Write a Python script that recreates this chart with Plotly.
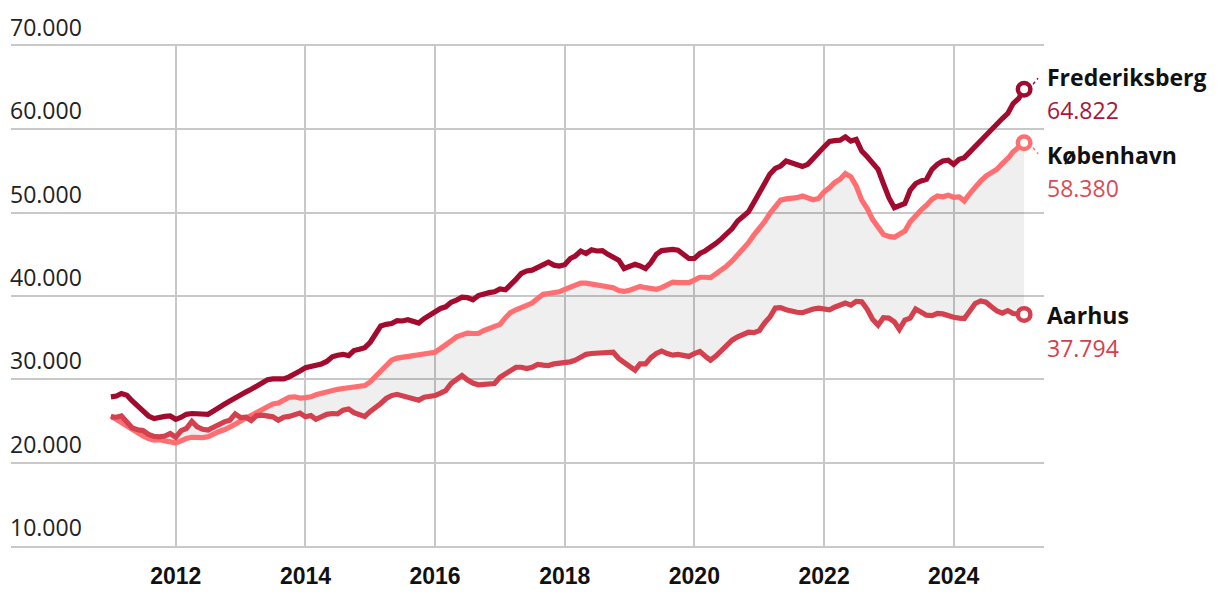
import plotly.graph_objects as go
import pandas as pd

months = pd.date_range("2011-01-01", periods=170, freq="MS")

frederiksberg = [
    27900, 28000, 28300, 28100, 27400, 26800, 26200, 25600, 25300, 25500, 25550, 25600,
    25200, 25450, 25800, 25900, 25850, 25700, 25800, 26200, 26700, 27000, 27400, 27800,
    28150, 28500, 28800, 29200, 29500, 29950, 30050, 30100, 30050, 30300, 30750, 31000,
    31400, 31500, 31650, 31850, 32150, 32700, 32900, 33000, 32850, 33450, 33600, 33800,
    34450, 35400, 36400, 36600, 36700, 37050, 37000, 37150, 37000, 36750, 37300, 37700,
    38200, 38500, 38700, 39250, 39500, 39850, 39800, 39550, 40050, 40300, 40400, 40500,
    40850, 40750, 41250, 42000, 42700, 43000, 43100, 43450, 43700, 44050, 43700, 43600,
    43750, 44500, 44800, 45400, 45100, 45550, 45400, 45450, 45000, 44700, 44300, 43300,
    43500, 43800, 43600, 43300, 44000, 45000, 45450, 45600, 45600, 45500, 44900, 44500,
    44500, 45100, 45400, 45800, 46300, 46850, 47500, 48100, 49000, 49500, 50100, 51200,
    52400, 53500, 54600, 55300, 55600, 56200, 56000, 55850, 55550, 55800, 56600, 57200,
    57900, 58550, 58650, 58700, 59100, 58600, 58800, 57400, 56700, 55900, 55200, 53500,
    51800, 50600, 50800, 51100, 52700, 53500, 53800, 54000, 55200, 55800, 56200, 56300,
    55800, 56400, 56600, 57300, 58000, 58700, 59400, 60000, 60600, 61300, 61900, 63100,
    63700, 64822,
]

koebenhavn = [
    25600, 25200, 24700, 24300, 23900, 23500, 23200, 22900, 22700, 22750, 22700, 22500,
    22350, 22650, 22900, 23050, 22950, 23000, 23100, 23450, 23750, 23950, 24200, 24600,
    25000, 25350, 25700, 26050, 26400, 26850, 27050, 27150, 27500, 27850, 27900, 27750,
    27800, 27900, 28150, 28350, 28500, 28650, 28800, 28900, 28950, 29050, 29100, 29250,
    29700, 30400, 31100, 31800, 32300, 32550, 32700, 32750, 32850, 32950, 33000, 33050,
    33250, 33700, 34050, 34600, 35100, 35400, 35550, 35500, 35500, 35850, 36050, 36250,
    36600, 37400, 38000, 38350, 38600, 38800, 39150, 39700, 40200, 40300, 40350, 40500,
    40800, 41100, 41350, 41550, 41550, 41450, 41300, 41200, 41100, 41000, 40650, 40550,
    40700, 41000, 41150, 41000, 40850, 40800, 41000, 41250, 41650, 41600, 41550, 41600,
    41900, 42250, 42250, 42200, 42650, 43100, 43600, 44200, 44900, 45600, 46400, 47300,
    48100, 48950, 49900, 50850, 51500, 51650, 51700, 51800, 52000, 51800, 51550, 51700,
    52500, 53000, 53600, 54000, 54700, 54300, 53200, 51500, 50500, 49200, 48300, 47400,
    47150, 47050, 47400, 47800, 48900, 49700, 50300, 50900, 51600, 52000, 51900, 52100,
    51850, 51900, 51400, 52300, 53100, 53800, 54400, 54800, 55200, 55900, 56500, 57300,
    57900, 58380,
]

aarhus = [
    25500, 25450, 25600, 24800, 24150, 23950, 23850, 23400, 23150, 23100, 23200, 23500,
    23050, 23850, 24100, 24950, 24300, 24000, 23900, 24250, 24600, 24900, 25100, 25850,
    25400, 25450, 25050, 25650, 25700, 25650, 25500, 25100, 25450, 25550, 25700, 25950,
    25500, 25650, 25200, 25550, 25800, 25900, 25850, 26300, 26450, 26000, 25700, 25550,
    26150, 26600, 27100, 27700, 28050, 28200, 28050, 27900, 27650, 27500, 27850, 27900,
    28050, 28350, 28650, 29500, 30050, 30450, 29950, 29550, 29350, 29350, 29400, 29500,
    30250, 30700, 31050, 31450, 31450, 31300, 31450, 31800, 31700, 31650, 31850, 31900,
    32050, 32100, 32300, 32650, 33000, 33100, 33150, 33250, 33350, 33250, 32500, 31950,
    31550, 31100, 31850, 31850, 32600, 33100, 33400, 33100, 32900, 33000, 32850, 32750,
    33100, 33350, 32800, 32300, 32800, 33500, 34200, 34700, 35100, 35450, 35650, 35600,
    35850, 36800, 37450, 38550, 38600, 38350, 38150, 38050, 38000, 38250, 38450, 38550,
    38450, 38350, 38650, 38850, 39150, 38900, 39350, 39300, 38400, 37200, 36500, 37400,
    37350, 36900, 36000, 37100, 37350, 38450, 38150, 37700, 37650, 37900, 37850, 37600,
    37450, 37350, 37300, 38200, 39100, 39400, 39250, 38700, 38200, 37950, 38250, 37900,
    37850, 37794,
]

series = [
    # name, values, line colour, value-label colour, name yshift, value yshift, leader dir
    ("Frederiksberg", frederiksberg, "#a30b2e", "#a9163a", 12, -21, 1),
    ("København", koebenhavn, "#ff6f71", "#d84c57", -12, -45, -1),
    ("Aarhus", aarhus, "#d5404e", "#d5404e", -1, -34, 0),
]

y_ticks = [10000, 20000, 30000, 40000, 50000, 60000, 70000]
y_ticktext = ["10.000", "20.000", "30.000", "40.000", "50.000", "60.000", "70.000"]
x_ticks = ["2012-01-01", "2014-01-01", "2016-01-01", "2018-01-01",
           "2020-01-01", "2022-01-01", "2024-01-01"]
x_ticktext = ["2012", "2014", "2016", "2018", "2020", "2022", "2024"]

GRID = "#c8c8c8"

fig = go.Figure()

# grey band between København and Aarhus
fig.add_trace(go.Scatter(x=months, y=aarhus, mode="lines", line=dict(width=0),
                         hoverinfo="skip", showlegend=False))
fig.add_trace(go.Scatter(x=months, y=koebenhavn, mode="lines", line=dict(width=0),
                         fill="tonexty", fillcolor="rgba(0,0,0,0.063)",
                         hoverinfo="skip", showlegend=False))

for name, vals, col, vcol, ns, vs, ld in series:
    fig.add_trace(go.Scatter(x=months, y=vals, mode="lines", name=name,
                             line=dict(color=col, width=5.2), showlegend=False))
for name, vals, col, vcol, ns, vs, ld in series:
    fig.add_trace(go.Scatter(x=[months[-1]], y=[vals[-1]], mode="markers",
                             marker=dict(size=12.5, color="white",
                                         line=dict(color=col, width=4.5)),
                             showlegend=False, hoverinfo="skip"))
    if ld:
        # tiny dotted leader from the end marker towards its label
        fig.add_shape(type="line", xref="x", yref="y",
                      xsizemode="pixel", ysizemode="pixel",
                      xanchor=months[-1], yanchor=vals[-1],
                      x0=9, x1=14, y0=5 * ld, y1=11 * ld,
                      line=dict(color=col, width=1.5, dash="dot"))
    fig.add_annotation(x=1.0, xref="paper", y=vals[-1], yref="y",
                       text="<b>%s</b>" % name, showarrow=False,
                       xanchor="left", yanchor="middle", xshift=1, yshift=ns,
                       font=dict(family="Open Sans", size=23, color="#111111"))
    fig.add_annotation(x=1.0, xref="paper", y=vals[-1], yref="y",
                       text=f"{vals[-1]:,}".replace(",", "."), showarrow=False,
                       xanchor="left", yanchor="middle", xshift=1, yshift=vs,
                       font=dict(family="Open Sans", size=23, color=vcol))

# y tick labels sit above their gridlines, inside the plot area
for v, t in zip(y_ticks, y_ticktext):
    fig.add_annotation(x=0, xref="paper", y=v, yref="y", text=t, showarrow=False,
                       xanchor="left", yanchor="middle", xshift=-3, yshift=19,
                       font=dict(family="Open Sans", size=23, color="#222222"))

fig.update_layout(
    width=1204, height=580,
    margin=dict(l=3, r=168, t=38, b=42, autoexpand=False),
    plot_bgcolor="white", paper_bgcolor="white",
    xaxis=dict(type="date", range=["2009-06-17", "2025-05-24"],
               tickvals=x_ticks, ticktext=x_ticktext, automargin=False,
               showgrid=True, gridcolor=GRID, gridwidth=1.5,
               zeroline=False, showline=True, mirror=True,
               linecolor=GRID, linewidth=1.5, ticks="",
               ticklabelstandoff=9,
               tickfont=dict(family="Liberation Sans", size=23, weight="bold",
                             color="#111111")),
    yaxis=dict(range=[10000, 70000], tickvals=y_ticks, showticklabels=False,
               automargin=False,
               showgrid=True, gridcolor=GRID, gridwidth=1.5,
               zeroline=False, showline=False, ticks=""),
)

fig.write_html("out.html")
